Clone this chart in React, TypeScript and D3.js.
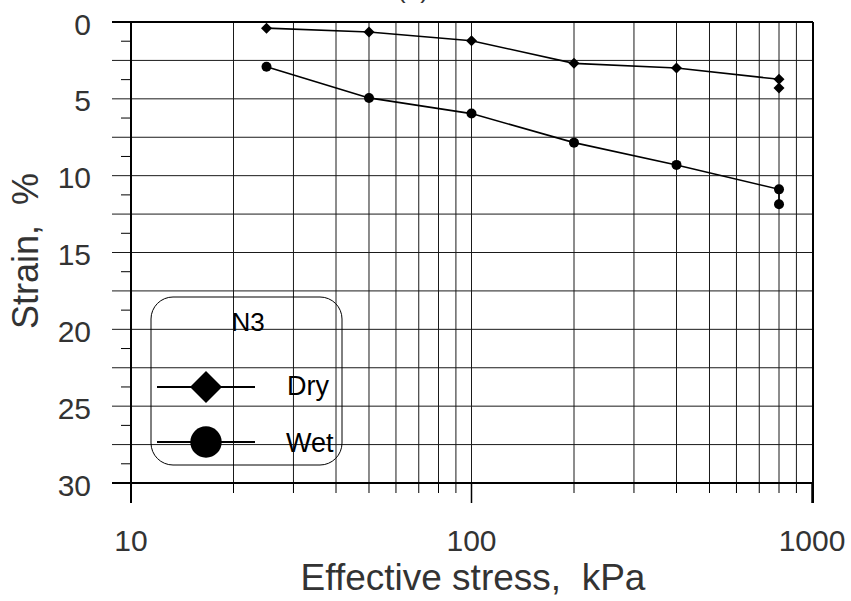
import React from "react";
import * as d3 from "d3";

const stressKPa = [25, 50, 100, 200, 400, 800, 800];
const dryStrain = [0.4, 0.65, 1.22, 2.69, 2.99, 3.73, 4.29];
const wetStrain = [2.91, 4.94, 5.96, 7.85, 9.3, 10.89, 11.86];
const xTickLabels = [10, 100, 1000];
const yTickLabels = [0, 5, 10, 15, 20, 25, 30];
const legendTitle = "N3";
const seriesNames = ["Dry", "Wet"];

const W = 851, H = 601;
const L = 131, R = 812, T = 22, B = 483;

export default function App() {
  const x = d3.scaleLog().domain([10, 1000]).range([L, R]);
  const y = d3.scaleLinear().domain([0, 30]).range([T, B]);
  const xGrid = x.ticks().filter((v) => v > 10 && v < 1000);
  const yMajor = d3.range(0, 30.001, 2.5);
  const yMinor = d3.range(1.25, 30, 2.5);
  const line = d3
    .line<number>()
    .x((_, i) => x(stressKPa[i]))
    .y((d) => y(d));
  const font = "'Liberation Sans', Arial, sans-serif";
  const diamond = (cx: number, cy: number, r: number) =>
    `M${cx},${cy - r}L${cx + r},${cy}L${cx},${cy + r}L${cx - r},${cy}Z`;
  const gridColor = "#1a1a1a";

  return (
    <svg width={W} height={H} style={{ position: "absolute", left: 0, top: 0, background: "#fff" }}>
      <text x={413} y={-2} fontFamily={font} fontSize={26} textAnchor="middle" fill="#333">(a)</text>
      {/* grid */}
      {xGrid.map((v) => (
        <line key={"gx" + v} x1={x(v)} x2={x(v)} y1={T} y2={B} stroke={gridColor} strokeWidth={1} />
      ))}
      {yMajor.map((v) => (
        <line key={"gy" + v} x1={112} x2={R} y1={y(v)} y2={y(v)} stroke={gridColor} strokeWidth={1} />
      ))}
      {yMinor.map((v) => (
        <line key={"my" + v} x1={121} x2={L} y1={y(v)} y2={y(v)} stroke="#000" strokeWidth={1} />
      ))}
      {/* x ticks */}
      {x.ticks().map((v) => {
        const major = xTickLabels.includes(v);
        return (
          <line key={"tx" + v} x1={x(v)} x2={x(v)} y1={B} y2={major ? 503 : 493} stroke="#000" strokeWidth={major ? 1.5 : 1} />
        );
      })}
      {/* frame */}
      <line x1={112} x2={R + 1} y1={T} y2={T} stroke="#000" strokeWidth={2} />
      <line x1={112} x2={R + 1} y1={B} y2={B} stroke="#000" strokeWidth={2} />
      <line x1={L} x2={L} y1={T} y2={503} stroke="#000" strokeWidth={2} />
      <line x1={R + 1} x2={R + 1} y1={T} y2={503} stroke="#000" strokeWidth={2} />
      {/* tick labels */}
      {yTickLabels.map((v) => (
        <text key={"ly" + v} x={91} y={y(v) + 12.5} fontFamily={font} fontSize={30} textAnchor="end" fill="#333">{v}</text>
      ))}
      {xTickLabels.map((v) => (
        <text key={"lx" + v} x={x(v)} y={551} fontFamily={font} fontSize={30} textAnchor="middle" fill="#333">{v}</text>
      ))}
      <text x={473} y={590} fontFamily={font} fontSize={37} textAnchor="middle" fill="#333" style={{ whiteSpace: "pre" }}>Effective stress,  kPa</text>
      <text transform={`translate(38,251) rotate(-90)`} fontFamily={font} fontSize={36} textAnchor="middle" fill="#333" style={{ whiteSpace: "pre" }}>Strain,  %</text>
      {/* data */}
      <path d={line(dryStrain) || ""} fill="none" stroke="#000" strokeWidth={1.6} />
      <path d={line(wetStrain) || ""} fill="none" stroke="#000" strokeWidth={1.6} />
      {dryStrain.map((v, i) => (
        <path key={"d" + i} d={diamond(x(stressKPa[i]), y(v), 5.5)} fill="#000" />
      ))}
      {wetStrain.map((v, i) => (
        <circle key={"w" + i} cx={x(stressKPa[i])} cy={y(v)} r={5} fill="#000" />
      ))}
      {/* legend */}
      <rect x={151} y={297} width={191} height={168} rx={22} ry={22} fill="none" stroke="#000" strokeWidth={1} />
      <text x={248} y={331} fontFamily={font} fontSize={26} textAnchor="middle" fill="#000">{legendTitle}</text>
      <line x1={157} x2={255} y1={387} y2={387} stroke="#000" strokeWidth={1.8} />
      <path d={diamond(206, 387, 16)} fill="#000" />
      <text x={287} y={395} fontFamily={font} fontSize={27} fill="#000">{seriesNames[0]}</text>
      <line x1={157} x2={255} y1={442} y2={442} stroke="#000" strokeWidth={1.8} />
      <circle cx={206} cy={442} r={15.7} fill="#000" />
      <text x={286} y={452} fontFamily={font} fontSize={27} fill="#000">{seriesNames[1]}</text>
    </svg>
  );
}
